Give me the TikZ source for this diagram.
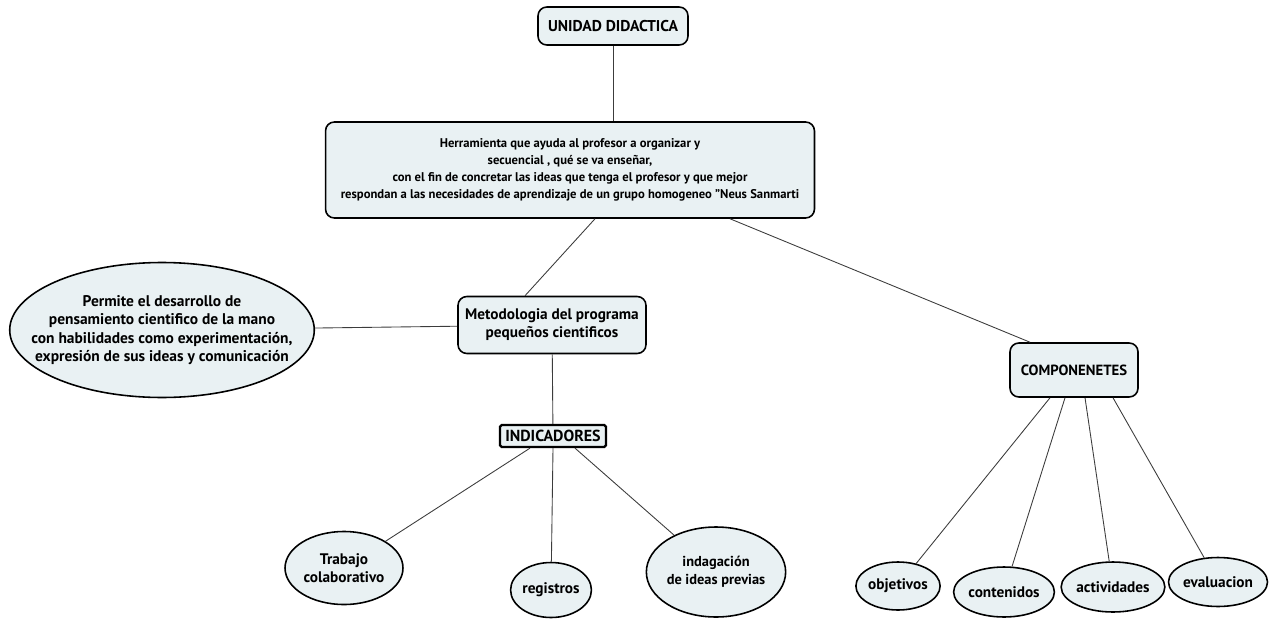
\documentclass[tikz,border=0pt]{standalone}
\usepackage{fontspec}
\setmainfont{PT Sans}
\usetikzlibrary{shapes.geometric,calc}
\definecolor{fondonodo}{RGB}{233,241,243}
\definecolor{linea}{RGB}{60,60,60}

\begin{document}
\begin{tikzpicture}[x=0.02cm,y=-0.02cm,
    caja/.style={draw, line width=0.9pt, rounded corners=5pt, fill=fondonodo, align=center,
      inner sep=2pt, font=\bfseries\fontsize{8.7}{10.2}\selectfont},
    burbuja/.style={ellipse, draw, line width=0.9pt, fill=fondonodo, align=center,
      inner sep=0pt, font=\bfseries\fontsize{8.7}{10.2}\selectfont},
    enlace/.style={draw=linea, line width=0.5pt}]
        \useasboundingbox (0,0) rectangle (1273,618);

        % Nodo raiz y definicion
        \node[caja, minimum width=3cm, minimum height=0.76cm, font=\bfseries\fontsize{8.9}{10.2}\selectfont] (unidad) at (613,26) {UNIDAD DIDACTICA};
        \node[caja, minimum width=9.78cm, minimum height=1.92cm, font=\bfseries\fontsize{7.2}{9.6}\selectfont] (herr) at (570,170)
            {Herramienta que ayuda al profesor a organizar y\\secuencial , qué se va enseñar,\\con el fin de concretar las ideas que tenga el profesor y que mejor\\respondan a las necesidades de aprendizaje de un grupo homogeneo "Neus Sanmarti};

        % Rama de la metodologia
        \node[caja, minimum width=3.76cm, minimum height=1.14cm] (meto) at (552,325) {Metodologia del programa\\pequeños cientificos};
        \node[burbuja, minimum width=6cm, minimum height=2.7cm, inner xsep=-13pt,
              font=\bfseries\fontsize{8.8}{10.5}\selectfont] (permite) at (162,330)
            {Permite el desarrollo de\\pensamiento cientifico de la mano\\con habilidades como experimentación,\\expresión de sus ideas y comunicación};
        \node[caja, rounded corners=1pt, line width=1.3pt, minimum width=2.12cm, minimum height=0.44cm, inner sep=1pt,
              font=\bfseries\fontsize{9.1}{10.2}\selectfont] (ind) at (553,436) {INDICADORES};
        \node[burbuja, minimum width=2.36cm, minimum height=1.46cm] (trab) at (344,568) {Trabajo\\colaborativo};
        \node[burbuja, minimum width=1.46cm, minimum height=1.1cm] (reg) at (551,590) {registros};
        \node[burbuja, minimum width=2.56cm, minimum height=1.8cm, font=\bfseries\fontsize{8.2}{10.2}\selectfont] (indag) at (716,572) {indagación\\de ideas previas};

        % Rama de los componentes
        \node[caja, minimum width=2.56cm, minimum height=1.08cm, font=\bfseries\fontsize{8.4}{10.2}\selectfont] (comp) at (1074,370) {COMPONENETES};
        \node[burbuja, minimum width=1.66cm, minimum height=0.96cm] (obj) at (898,586) {objetivos};
        \node[burbuja, minimum width=1.84cm, minimum height=1.0cm] (cont) at (1004,592) {contenidos};
        \node[burbuja, minimum width=1.86cm, minimum height=1.0cm] (act) at (1113,587) {actividades};
        \node[burbuja, minimum width=1.8cm, minimum height=0.98cm] (eval) at (1218,582) {evaluacion};

        % Conexiones
        \draw[enlace] (unidad.south) -- (unidad.south |- herr.north);
        \draw[enlace] ($(herr.south)+(25,0)$) -- ($(meto.north)+(-27,0)$);
        \draw[enlace] ($(herr.south)+(160,0)$) -- ($(comp.north)+(-44,0)$);
        \draw[enlace] (permite) -- (meto);
        \draw[enlace] (meto) -- (ind);
        \draw[enlace] ($(ind.south)+(-23,0)$) -- (trab);
        \draw[enlace] (ind.south) -- (reg);
        \draw[enlace] ($(ind.south)+(22,0)$) -- (indag);
        \draw[enlace] ($(comp.south)+(-24,0)$) -- (obj);
        \draw[enlace] ($(comp.south)+(-9,0)$) -- (cont);
        \draw[enlace] ($(comp.south)+(11,0)$) -- (act);
        \draw[enlace] ($(comp.south)+(39,0)$) -- (eval);
\end{tikzpicture}
\end{document}
